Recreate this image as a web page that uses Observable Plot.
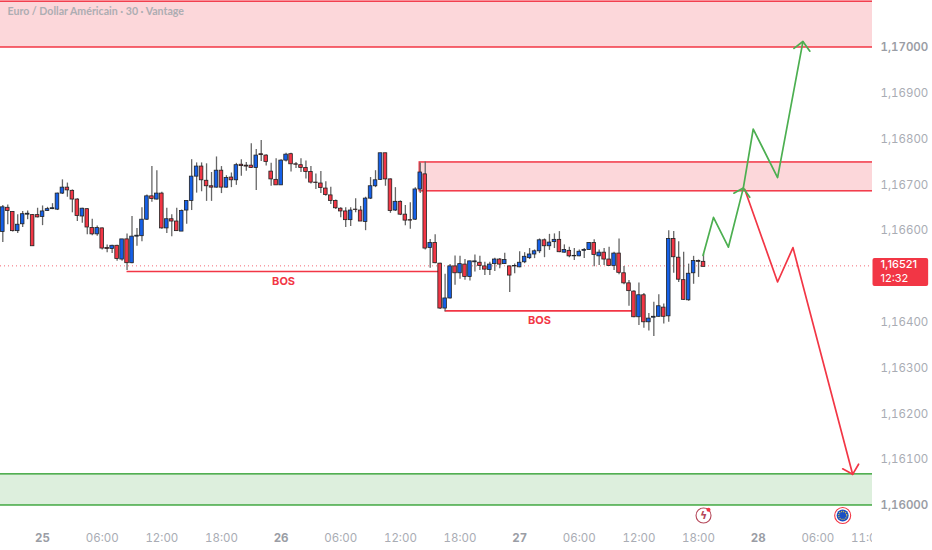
<!DOCTYPE html>
<html><head><meta charset="utf-8">
<script src="https://cdn.jsdelivr.net/npm/d3@7"></script>
<script src="https://cdn.jsdelivr.net/npm/@observablehq/plot@0.6"></script>
<style>html,body{margin:0;padding:0;background:#fff;overflow:hidden}svg{display:block}</style>
</head><body><div id="chart"></div>
<script>
const opens=[1.16597,1.16650,1.16641,1.16599,1.16614,1.16635,1.16634,1.16634,1.16630,1.16643,1.16647,1.16646,1.16681,1.16694,1.16687,1.16668,1.16631,1.16647,1.16606,1.16592,1.16605,1.16562,1.16560,1.16567,1.16537,1.16581,1.16529,1.16587,1.16588,1.16624,1.16675,1.16668,1.16681,1.16605,1.16625,1.16620,1.16598,1.16644,1.16665,1.16718,1.16740,1.16709,1.16697,1.16694,1.16731,1.16694,1.16716,1.16710,1.16744,1.16742,1.16742,1.16737,1.16767,1.16764,1.16729,1.16711,1.16699,1.16753,1.16767,1.16745,1.16743,1.16737,1.16728,1.16705,1.16703,1.16692,1.16677,1.16665,1.16648,1.16642,1.16623,1.16646,1.16644,1.16619,1.16670,1.16697,1.16711,1.16769,1.16712,1.16644,1.16663,1.16635,1.16623,1.16624,1.16690,1.16723,1.16562,1.16573,1.16528,1.16430,1.16452,1.16522,1.16507,1.16526,1.16499,1.16531,1.16530,1.16522,1.16514,1.16527,1.16537,1.16527,1.16522,1.16522,1.16520,1.16531,1.16540,1.16548,1.16555,1.16579,1.16566,1.16575,1.16580,1.16552,1.16556,1.16545,1.16544,1.16556,1.16558,1.16573,1.16544,1.16552,1.16537,1.16523,1.16550,1.16507,1.16485,1.16467,1.16411,1.16459,1.16400,1.16410,1.16412,1.16432,1.16413,1.16582,1.16541,1.16492,1.16448,1.16507,1.16534,1.16532];
const closes=[1.16651,1.16643,1.16599,1.16613,1.16636,1.16637,1.16566,1.16629,1.16642,1.16647,1.16649,1.16681,1.16694,1.16688,1.16668,1.16632,1.16648,1.16607,1.16592,1.16606,1.16561,1.16560,1.16567,1.16538,1.16581,1.16529,1.16587,1.16589,1.16624,1.16675,1.16669,1.16681,1.16605,1.16625,1.16620,1.16599,1.16643,1.16665,1.16718,1.16740,1.16710,1.16697,1.16694,1.16731,1.16694,1.16715,1.16710,1.16743,1.16741,1.16740,1.16737,1.16764,1.16765,1.16750,1.16712,1.16699,1.16753,1.16766,1.16745,1.16744,1.16737,1.16728,1.16705,1.16704,1.16693,1.16678,1.16665,1.16649,1.16642,1.16623,1.16644,1.16645,1.16620,1.16670,1.16697,1.16710,1.16769,1.16712,1.16643,1.16663,1.16635,1.16622,1.16622,1.16690,1.16727,1.16561,1.16573,1.16529,1.16430,1.16452,1.16522,1.16507,1.16527,1.16499,1.16533,1.16533,1.16523,1.16515,1.16526,1.16537,1.16526,1.16536,1.16502,1.16523,1.16530,1.16543,1.16548,1.16555,1.16579,1.16566,1.16574,1.16580,1.16553,1.16558,1.16544,1.16544,1.16554,1.16558,1.16573,1.16547,1.16552,1.16537,1.16523,1.16550,1.16508,1.16485,1.16468,1.16411,1.16459,1.16400,1.16408,1.16412,1.16435,1.16412,1.16582,1.16542,1.16493,1.16449,1.16506,1.16534,1.16532,1.16521];
const highs=[1.16655,1.16656,1.16641,1.16635,1.16642,1.16643,1.16635,1.16649,1.16654,1.16651,1.16659,1.16682,1.16711,1.16704,1.16689,1.16670,1.16649,1.16648,1.16625,1.16610,1.16606,1.16569,1.16568,1.16568,1.16581,1.16593,1.16631,1.16605,1.16650,1.16678,1.16740,1.16731,1.16684,1.16649,1.16635,1.16649,1.16645,1.16665,1.16755,1.16748,1.16748,1.16746,1.16727,1.16761,1.16740,1.16720,1.16726,1.16747,1.16755,1.16749,1.16790,1.16777,1.16797,1.16766,1.16747,1.16757,1.16755,1.16769,1.16769,1.16749,1.16757,1.16752,1.16740,1.16724,1.16729,1.16707,1.16695,1.16667,1.16650,1.16650,1.16650,1.16670,1.16653,1.16673,1.16716,1.16731,1.16769,1.16769,1.16713,1.16694,1.16665,1.16655,1.16661,1.16694,1.16748,1.16750,1.16581,1.16591,1.16529,1.16505,1.16526,1.16545,1.16544,1.16537,1.16533,1.16547,1.16544,1.16531,1.16531,1.16540,1.16539,1.16551,1.16523,1.16527,1.16554,1.16552,1.16561,1.16558,1.16582,1.16582,1.16592,1.16593,1.16598,1.16569,1.16564,1.16561,1.16558,1.16561,1.16574,1.16580,1.16558,1.16561,1.16564,1.16553,1.16582,1.16522,1.16491,1.16469,1.16486,1.16463,1.16419,1.16444,1.16460,1.16440,1.16600,1.16598,1.16576,1.16553,1.16527,1.16544,1.16536,1.16549];
const lows=[1.16574,1.16613,1.16597,1.16594,1.16607,1.16624,1.16566,1.16628,1.16611,1.16642,1.16646,1.16644,1.16679,1.16673,1.16639,1.16620,1.16616,1.16591,1.16589,1.16588,1.16558,1.16552,1.16550,1.16533,1.16533,1.16513,1.16528,1.16566,1.16576,1.16622,1.16662,1.16667,1.16603,1.16594,1.16587,1.16598,1.16598,1.16614,1.16644,1.16682,1.16685,1.16664,1.16664,1.16693,1.16681,1.16693,1.16694,1.16699,1.16719,1.16730,1.16736,1.16688,1.16751,1.16741,1.16697,1.16699,1.16699,1.16750,1.16728,1.16736,1.16727,1.16713,1.16702,1.16690,1.16681,1.16675,1.16657,1.16646,1.16628,1.16607,1.16609,1.16639,1.16620,1.16600,1.16668,1.16694,1.16710,1.16697,1.16638,1.16642,1.16633,1.16611,1.16603,1.16622,1.16681,1.16558,1.16518,1.16528,1.16428,1.16423,1.16451,1.16481,1.16494,1.16492,1.16490,1.16510,1.16513,1.16502,1.16502,1.16511,1.16517,1.16526,1.16465,1.16506,1.16519,1.16528,1.16537,1.16539,1.16550,1.16541,1.16557,1.16561,1.16552,1.16551,1.16541,1.16535,1.16543,1.16539,1.16557,1.16521,1.16524,1.16524,1.16522,1.16513,1.16504,1.16482,1.16435,1.16410,1.16393,1.16387,1.16381,1.16369,1.16411,1.16396,1.16400,1.16507,1.16487,1.16448,1.16446,1.16483,1.16498,1.16523];

const yTicks=[1.16100,1.16200,1.16300,1.16400,1.16600,1.16700,1.16800,1.16900];
const yBoldTicks=[1.16000,1.17000];
const xTicks=[20,32,44,68,80,92,116,128,140,164,174];
const xLabels=["06:00","12:00","18:00","06:00","12:00","18:00","06:00","12:00","18:00","06:00","11:00"];
const dayTicks=[8,56,104,152];
const dayLabels=["25","26","27","28"];

const lastPrice=1.16521, priceLabel="1,16521", countdown="12:32";
const title="Euro / Dollar Américain · 30 · Vantage";
const xStart=-0.463, xEnd=175;
const redZones=[{x1:xStart-2,x2:xEnd+2,y1:1.17,y2:1.17100},{x1:83.9,x2:xEnd+2,y1:1.16686,y2:1.16749}];
const greenZones=[{x1:xStart-2,x2:xEnd+2,y1:1.16,y2:1.16068}];
const bos=[{x1:25,x2:87.7,y:1.16511,lx:56.5,ly:1.16489},{x1:89,x2:126.7,y:1.16425,lx:108,ly:1.16404}];
const greenPathX=[140.9,143,146,149,151,155.9,161], greenPathY=[1.16546,1.16629,1.16564,1.16693,1.16822,1.16716,1.17013];
const greenHead1X=[159.2,161,162.4], greenHead1Y=[1.16998,1.17013,1.16992];
const greenHead2X=[147.1,149,150.3], greenHead2Y=[1.16682,1.16693,1.16673];
const redPathX=[149.3,155.9,159,171], redPathY=[1.16690,1.16488,1.16563,1.16068];
const redHeadX=[169,171,172.2], redHeadY=[1.16080,1.16068,1.16090];

const RED="#f23645", GREEN="#43a843", BLUE="#1560e8", AXIS="#a9acb4";
const AXF="Inter, Roboto, sans-serif";
const candles=opens.map((o,i)=>({i,o,c:closes[i],h:highs[i],l:lows[i]}));
const pts=(xs,ys)=>xs.map((x,i)=>({x,y:ys[i]}));
const fmt=d=>d.toFixed(5).replace(".",",");
const xfmt=(ticks,labels)=>d=>labels[ticks.indexOf(d)];
const line=(xs,ys,stroke)=>Plot.line(pts(xs,ys),{x:"x",y:"y",stroke,strokeWidth:1.7,curve:"linear"});

const chart=Plot.plot({
  width:932,height:550,marginLeft:0,marginRight:60,marginTop:0,marginBottom:0,
  style:{background:"#fff",fontFamily:AXF},
  x:{domain:[xStart,xEnd],range:[0,872],axis:null},
  y:{domain:[1.159017,1.171026],range:[550,0],axis:null},
  marks:[
    Plot.rect(redZones,{x1:"x1",x2:"x2",y1:"y1",y2:"y2",fill:RED,fillOpacity:0.2,clip:"frame"}),
    Plot.rect(greenZones,{x1:"x1",x2:"x2",y1:"y1",y2:"y2",fill:GREEN,fillOpacity:0.18,clip:"frame"}),
    Plot.rect(redZones,{x1:"x1",x2:"x2",y1:"y1",y2:"y2",stroke:RED,strokeWidth:1.5,clip:"frame"}),
    Plot.rect(greenZones,{x1:"x1",x2:"x2",y1:"y1",y2:"y2",stroke:GREEN,strokeWidth:1.5,clip:"frame"}),
    Plot.ruleY([lastPrice],{dy:-1,stroke:RED,strokeDasharray:"1,3",strokeWidth:1,strokeOpacity:0.75,clip:"frame"}),
    Plot.ruleY(bos,{y:"y",x1:"x1",x2:"x2",stroke:RED,strokeWidth:1.6}),
    Plot.text(bos,{x:"lx",y:"ly",text:()=>"BOS",fill:RED,fontSize:11,fontWeight:700,fontFamily:AXF}),
    Plot.ruleX(candles,{x:"i",y1:"l",y2:"h",stroke:"#666",strokeWidth:1.3}),
    Plot.rect(candles,{x1:d=>d.i-0.36,x2:d=>d.i+0.36,y1:"o",y2:"c",
      fill:d=>d.c>=d.o?BLUE:RED,stroke:"#222",strokeWidth:0.8}),
    line(greenPathX,greenPathY,"#4caf50"),
    line(greenHead1X,greenHead1Y,"#4caf50"),
    line(redPathX,redPathY,RED),
    line(redHeadX,redHeadY,RED),
    line(greenHead2X,greenHead2Y,"#4caf50"),
    Plot.text([title],{frameAnchor:"top-left",dx:7,dy:7,fill:"#adadb2",fontSize:10.6,fontWeight:700,fontFamily:"Lato,sans-serif"}),
    Plot.axisY(yTicks,{anchor:"right",tickSize:0,tickPadding:8,tickFormat:fmt,label:null,fill:AXIS,fontSize:11.5,fontFamily:AXF}),
    Plot.axisY(yBoldTicks,{anchor:"right",tickSize:0,tickPadding:8,tickFormat:fmt,label:null,fill:"#9a9da5",fontSize:11.5,fontWeight:600,fontFamily:AXF}),
    Plot.axisX(xTicks,{anchor:"bottom",tickSize:0,tickPadding:-17,tickFormat:xfmt(xTicks,xLabels),label:null,fill:AXIS,fontSize:11.5,fontFamily:AXF,clip:"frame"}),
    Plot.axisX(dayTicks,{anchor:"bottom",tickSize:0,tickPadding:-17,tickFormat:xfmt(dayTicks,dayLabels),label:null,fill:"#9a9da5",fontSize:11.5,fontWeight:700,fontFamily:AXF}),
    Plot.rect([{}],{x1:()=>175.1,x2:()=>186.3,y1:()=>1.16478,y2:()=>1.16539,fill:RED,rx:2,clip:false}),
    Plot.text([priceLabel],{x:()=>176.6,y:()=>1.165255,fill:"#fff",textAnchor:"start",fontSize:11,fontWeight:500,fontFamily:AXF}),
    Plot.text([countdown],{x:()=>176.6,y:()=>1.164952,fill:"#fff",textAnchor:"start",fontSize:11,fontFamily:AXF}),
    Plot.dot([0],{x:()=>141,y:()=>1.159782,r:7.5,fill:"#fff",stroke:"#b5485a",strokeWidth:1.1}),
    Plot.text(["ϟ"],{x:()=>141,y:()=>1.159782,fill:"#b5485a",fontSize:11,fontWeight:700,fontFamily:"DejaVu Sans"}),
    Plot.dot([0],{x:()=>142,y:()=>1.159908,r:2,fill:RED}),
    Plot.dot([0],{x:()=>169,y:()=>1.159782,r:8,fill:"#fff",stroke:RED,strokeWidth:1.1}),
    Plot.dot([0],{x:()=>169,y:()=>1.159782,r:6,fill:"#1a4fc4"}),
    Plot.dot([0],{x:()=>169,y:()=>1.159782,r:4,fill:"none",stroke:"#e6c73a",strokeWidth:1.3,strokeDasharray:"1,1.1"})
  ]
});
document.getElementById("chart").appendChild(chart);
</script></body></html>
